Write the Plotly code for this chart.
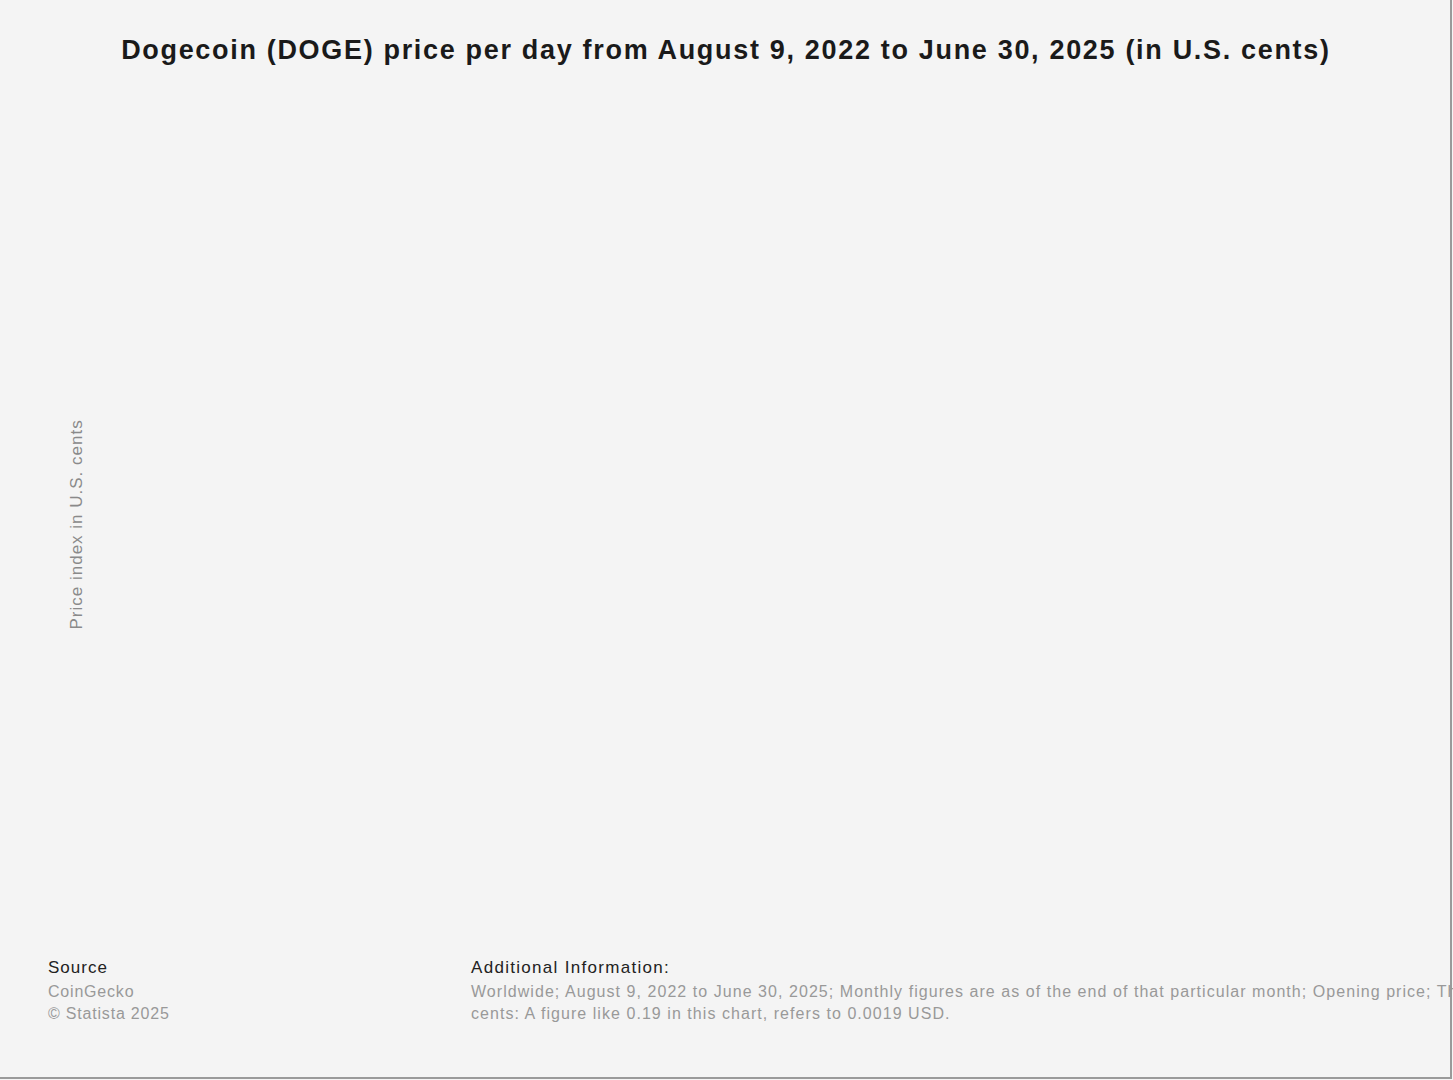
import plotly.graph_objects as go

# Data (the reference chart shows no plotted values)
dates = []
prices_cents = []

title_text = "Dogecoin (DOGE) price per day from August 9, 2022 to June 30, 2025 (in U.S. cents)"
y_title = "Price index in U.S. cents"
source_head = "Source"
source_lines = ["CoinGecko", "© Statista 2025"]
info_head = "Additional Information:"
info_lines = [
    "Worldwide; August 9, 2022 to June 30, 2025; Monthly figures are as of the end of that particular month; Opening price; The figures have been converted from USD to U.S.",
    "cents: A figure like 0.19 in this chart, refers to 0.0019 USD.",
]

W, H = 1453, 1080
BG = "#f4f4f4"
FONT = "Liberation Sans, Arial, sans-serif"


def px(x):
    return x / W


def py(y):
    return 1 - y / H


fig = go.Figure()
fig.add_trace(go.Scatter(x=dates, y=prices_cents, mode="lines",
                         line=dict(color="#0e72cc", width=2), showlegend=False))

ann = []
spacing = []  # letter-spacing per annotation (px)
ann.append(dict(text="<b>" + title_text + "</b>", x=px(726), y=py(50), xref="paper", yref="paper",
                xanchor="center", yanchor="middle", showarrow=False,
                font=dict(family=FONT, size=27, color="#1a1a1a")))
spacing.append(1.68)
ann.append(dict(text=y_title, x=px(76), y=py(525), xref="paper", yref="paper",
                xanchor="center", yanchor="middle", textangle=-90, showarrow=False,
                font=dict(family=FONT, size=17, color="#8a8a8a")))
spacing.append(1.0)
ann.append(dict(text=source_head, x=px(46), y=py(967), xref="paper", yref="paper",
                xanchor="left", yanchor="middle", align="left", showarrow=False,
                font=dict(family=FONT, size=17, color="#222222")))
spacing.append(1.0)
for i, t in enumerate(source_lines):
    ann.append(dict(text=t, x=px(46), y=py(991 + 22 * i), xref="paper", yref="paper",
                    xanchor="left", yanchor="middle", align="left", showarrow=False,
                    font=dict(family=FONT, size=16, color="#999999")))
    spacing.append(0.8)
ann.append(dict(text=info_head, x=px(469), y=py(967), xref="paper", yref="paper",
                xanchor="left", yanchor="middle", align="left", showarrow=False,
                font=dict(family=FONT, size=17, color="#222222")))
spacing.append(1.3)
for i, t in enumerate(info_lines):
    ann.append(dict(text=t, x=px(469), y=py(991 + 22 * i), xref="paper", yref="paper",
                    xanchor="left", yanchor="middle", align="left", showarrow=False,
                    font=dict(family=FONT, size=16, color="#999999")))
    spacing.append(1.05)

fig.update_layout(
    width=W, height=H,
    margin=dict(l=0, r=0, t=0, b=0),
    paper_bgcolor=BG, plot_bgcolor=BG,
    xaxis=dict(visible=False),
    yaxis=dict(visible=False),
    annotations=ann,
    shapes=[
        dict(type="line", xref="paper", yref="paper", x0=px(1451), x1=px(1451), y0=py(0), y1=py(1079),
             line=dict(color="#9a9a9a", width=2)),
        dict(type="line", xref="paper", yref="paper", x0=px(0), x1=px(1452), y0=py(1078), y1=py(1078),
             line=dict(color="#9a9a9a", width=2)),
    ],
)

css = " ".join(
    '.annotation[data-index="%d"] .annotation-text { letter-spacing: %.2fpx; }' % (i, s)
    for i, s in enumerate(spacing)
)
post = (
    "document.body.style.margin='0';"
    "document.body.style.overflow='hidden';"
    "var s=document.createElement('style');"
    "s.textContent=" + repr(css) + ";"
    "document.head.appendChild(s);"
)

fig.write_html("out.html", post_script=post, config={"displayModeBar": False})
